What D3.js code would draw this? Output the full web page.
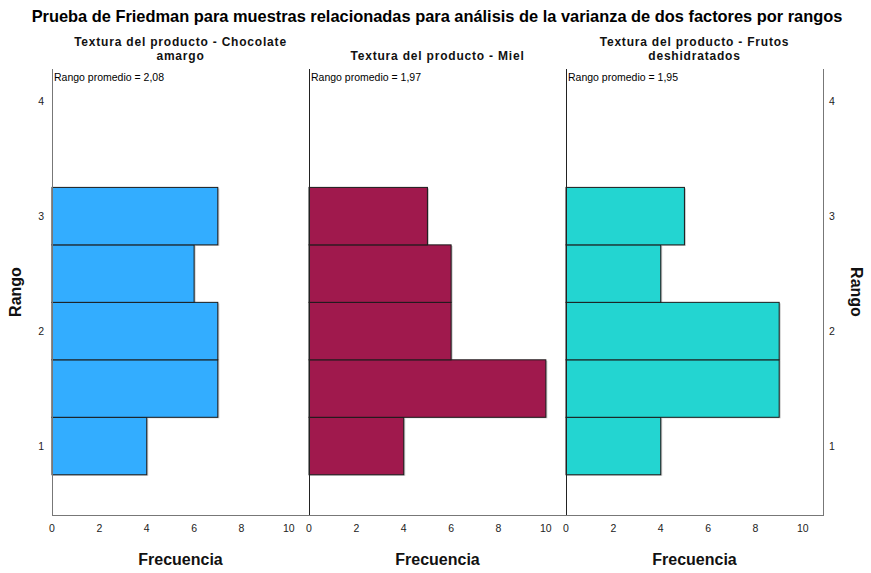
<!DOCTYPE html>
<html><head><meta charset="utf-8">
<script src="https://cdn.jsdelivr.net/npm/d3@7"></script>
<style>body{margin:0;background:#fff}text{font-family:"Liberation Sans",Arial,sans-serif}</style>
</head><body>
<svg id="c" width="871" height="573"></svg>
<script>
const title = "Prueba de Friedman para muestras relacionadas para análisis de la varianza de dos factores por rangos";
const panelTitles = [["Textura del producto - Chocolate","amargo"],["Textura del producto - Miel"],["Textura del producto - Frutos","deshidratados"]];
const meanLabels = ["Rango promedio = 2,08","Rango promedio = 1,97","Rango promedio = 1,95"];
const binCenters = [1, 1.5, 2, 2.5, 3];
const chocolate = [4, 7, 7, 6, 7];
const miel = [4, 10, 6, 6, 5];
const frutos = [4, 9, 9, 4, 5];
const colors = ["#33adff", "#a0194d", "#23d5d1"];
const xTicks = [0, 2, 4, 6, 8, 10];
const yTicks = [1, 2, 3, 4];
const series = [chocolate, miel, frutos];

const svg = d3.select("#c");
const pLeft = 52, pRight = 823, pTop = 69, pBottom = 515;
const panelW = (pRight - pLeft) / 3;
const y = d3.scaleLinear().domain([0.4, 4.28]).range([pBottom, pTop]);

svg.append("text").attr("x", 437).attr("y", 22).attr("text-anchor", "middle")
  .attr("font-size", 16.4).attr("font-weight", "bold").attr("fill", "#000").text(title);

series.forEach((vals, i) => {
  const x0 = pLeft + i * panelW;
  const x = d3.scaleLinear().domain([0, 10.85]).range([x0, x0 + panelW]);
  const g = svg.append("g");
  const bh = y(0.75) - y(1.25);
  g.selectAll("rect.s").data(vals).join("rect")
    .attr("x", x(0)).attr("y", (d, j) => y(binCenters[j] + 0.25) + 1)
    .attr("width", d => x(d) - x(0) + 1.5).attr("height", bh)
    .attr("fill", "#c8c8c8");
  g.selectAll("rect.b").data(vals).join("rect")
    .attr("x", x(0)).attr("y", (d, j) => y(binCenters[j] + 0.25))
    .attr("width", d => x(d) - x(0)).attr("height", bh)
    .attr("fill", colors[i]).attr("stroke", "#1a1a1a").attr("stroke-width", 1);
  g.selectAll("text.xt").data(xTicks).join("text")
    .attr("x", d => x(d)).attr("y", 532).attr("text-anchor", "middle")
    .attr("font-size", 10.5).attr("fill", "#222").text(d => d);
  g.append("text").attr("x", x0 + panelW / 2).attr("y", 565).attr("text-anchor", "middle")
    .attr("font-size", 16).attr("font-weight", "bold").attr("fill", "#111").text("Frecuencia");
  const t = panelTitles[i];
  t.forEach((line, k) => {
    const yy = t.length === 2 ? 46 + k * 13.5 : 59.5;
    g.append("text").attr("x", x0 + panelW / 2).attr("y", yy).attr("text-anchor", "middle")
      .attr("font-size", 12).attr("letter-spacing", 0.8).attr("font-weight", "bold")
      .attr("fill", "#111").text(line);
  });
  g.append("text").attr("x", x0 + 2).attr("y", 81).attr("font-size", 10.5)
    .attr("fill", "#000").text(meanLabels[i]);
  g.append("line").attr("x1", x0 + 0.5).attr("x2", x0 + 0.5).attr("y1", pTop).attr("y2", pBottom)
    .attr("stroke", i === 0 ? "#777" : "#222").attr("stroke-width", 1);
});

svg.append("line").attr("x1", pRight + 0.5).attr("x2", pRight + 0.5).attr("y1", pTop).attr("y2", pBottom)
  .attr("stroke", "#777");
svg.append("line").attr("x1", pLeft).attr("x2", pRight + 1).attr("y1", pBottom + 0.5).attr("y2", pBottom + 0.5)
  .attr("stroke", "#777");

svg.selectAll("text.yl").data(yTicks).join("text")
  .attr("x", 44).attr("y", d => y(d) + 4).attr("text-anchor", "end")
  .attr("font-size", 10.5).attr("fill", "#222").text(d => d);
svg.selectAll("text.yr").data(yTicks).join("text")
  .attr("x", 829).attr("y", d => y(d) + 4).attr("text-anchor", "start")
  .attr("font-size", 10.5).attr("fill", "#222").text(d => d);

svg.append("text").attr("transform", "translate(21,292) rotate(-90)").attr("text-anchor", "middle")
  .attr("font-size", 16).attr("font-weight", "bold").attr("fill", "#111").text("Rango");
svg.append("text").attr("transform", "translate(851,292) rotate(90)").attr("text-anchor", "middle")
  .attr("font-size", 16).attr("font-weight", "bold").attr("fill", "#111").text("Rango");
</script>
</body></html>
